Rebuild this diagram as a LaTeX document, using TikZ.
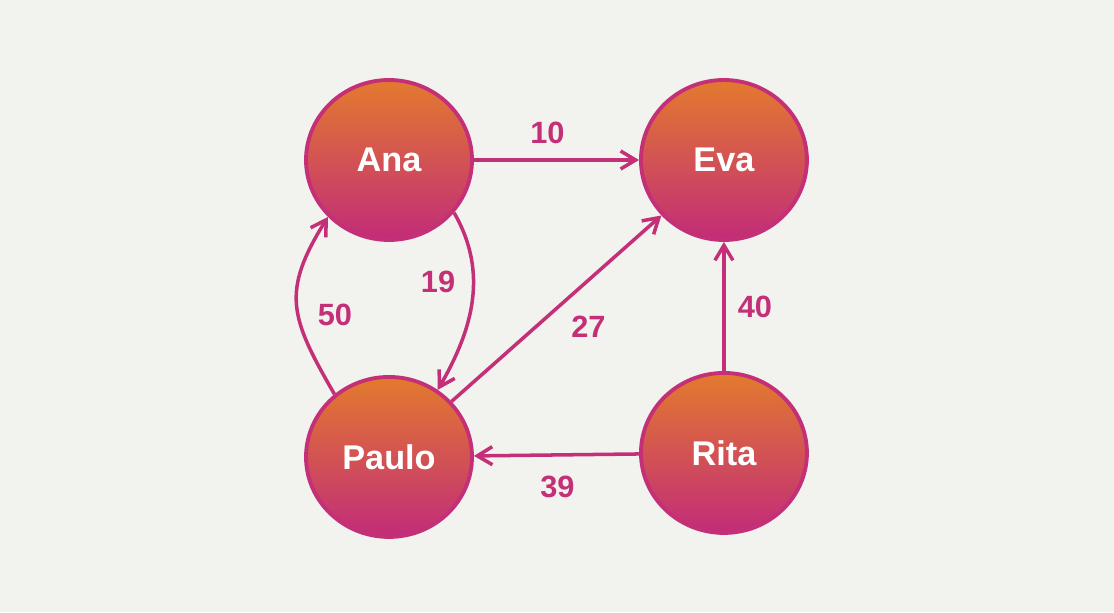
\documentclass[tikz,border=0pt]{standalone}
\usepackage{fontspec}
\setmainfont{Liberation Sans}
\usetikzlibrary{shapes.geometric, arrows.meta, positioning}

\definecolor{bgcol}{RGB}{242,243,238}
\definecolor{edgecol}{RGB}{196,48,120}
\definecolor{topcol}{RGB}{227,122,46}
\definecolor{botcol}{RGB}{194,44,120}

\begin{document}
\begin{tikzpicture}[x=0.02cm, y=0.02cm]
        \tikzstyle{person} = [ellipse, minimum width=3.32cm, minimum height=3.2cm, draw=edgecol, line width=2.2pt, top color=topcol, bottom color=botcol, text=white, font=\fontsize{19.5pt}{22pt}\selectfont\bfseries];
        \tikzstyle{arrow} = [draw=edgecol, line width=2pt, -{Straight Barb[length=0.3cm, width=0.36cm, line width=2pt]}];
        \tikzstyle{weight} = [text=edgecol, font=\fontsize{17.5pt}{20pt}\selectfont\bfseries];

        \fill[bgcol] (0,0) rectangle (1114,612);
        \useasboundingbox (0,0) rectangle (1114,612);
        \node(ana) [person] at (389,452) {Ana};
        \node(eva) [person, right of=ana, xshift=5.7cm] {Eva};
        \node(paulo) [person, below of=ana, yshift=-4.94cm] {Paulo};
        \node(rita) [person, right of=paulo, xshift=5.7cm, yshift=0.08cm] {Rita};

        \draw[arrow] (ana) -- node[weight, shift={(-9,27)}] {10} (eva);
        \draw[arrow] (ana.-39) to[out=-60, in=60] node[weight, shift={(-34,19)}] {19} (paulo.54);
        \draw[arrow] (paulo.131) to[out=120, in=-122, looseness=1.28] node[weight, shift={(38,-10)}] {50} (ana.-137);
        \draw[arrow] (paulo) -- node[weight, shift={(32,-18)}] {27} (eva);
        \draw[arrow] (rita) -- node[weight, shift={(31,0)}] {40} (eva);
        \draw[arrow] (rita) -- node[weight, shift={(1,-32)}] {39} (paulo);

    \end{tikzpicture}
\end{document}
